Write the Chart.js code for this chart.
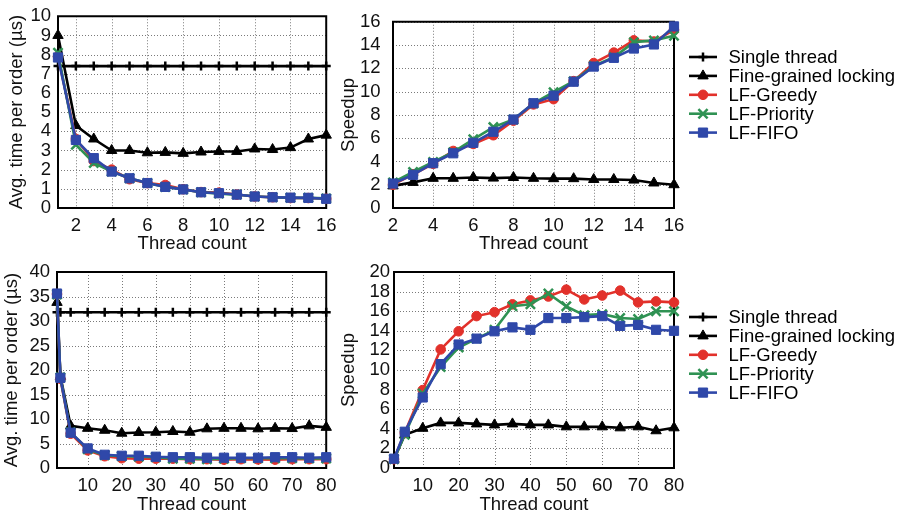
<!DOCTYPE html>
<html>
<head>
<meta charset="utf-8">
<script src="https://cdn.jsdelivr.net/npm/chart.js@4.4.1/dist/chart.umd.min.js"></script>
<style>
  html, body { margin: 0; padding: 0; background: #fff; }
  #wrap { position: relative; width: 904px; height: 516px; overflow: hidden; }
  canvas { position: absolute; }
</style>
</head>
<body>
<div id="wrap">
  <canvas id="tl" width="345" height="255" style="left:0;top:0"></canvas>
  <canvas id="tr" width="564" height="255" style="left:340px;top:0"></canvas>
  <canvas id="bl" width="345" height="261" style="left:0;top:255px"></canvas>
  <canvas id="br" width="564" height="261" style="left:340px;top:255px"></canvas>
</div>
<script>
// ---- data ----
const seriesNames = ['Single thread', 'Fine-grained locking', 'LF-Greedy', 'LF-Priority', 'LF-FIFO'];

// top row: up to 16 threads
const threadsSmall = [1, 2, 3, 4, 5, 6, 7, 8, 9, 10, 11, 12, 13, 14, 15, 16];
const timeSmallSingle = [7.4, 7.4, 7.4, 7.4, 7.4, 7.4, 7.4, 7.4, 7.4, 7.4, 7.4, 7.4, 7.4, 7.4, 7.4, 7.4];
const timeSmallFine = [9.0, 4.3, 3.6, 3.0, 3.0, 2.88, 2.9, 2.85, 2.92, 2.95, 2.95, 3.08, 3.05, 3.15, 3.6, 3.8];
const timeSmallGreedy = [7.9, 3.6, 2.45, 2.0, 1.5, 1.3, 1.2, 0.98, 0.83, 0.8, 0.7, 0.6, 0.56, 0.52, 0.52, 0.48];
const timeSmallPriority = [8.1, 3.3, 2.35, 1.9, 1.55, 1.3, 1.1, 0.97, 0.82, 0.75, 0.7, 0.6, 0.56, 0.53, 0.53, 0.5];
const timeSmallFifo = [7.85, 3.55, 2.6, 1.9, 1.55, 1.3, 1.1, 0.97, 0.82, 0.77, 0.7, 0.6, 0.56, 0.54, 0.53, 0.48];

const threadsSmallSpeed = [2, 3, 4, 5, 6, 7, 8, 9, 10, 11, 12, 13, 14, 15, 16];
const speedSmallFine = [1.9, 2.2, 2.55, 2.55, 2.62, 2.57, 2.62, 2.55, 2.52, 2.52, 2.45, 2.45, 2.4, 2.15, 2.0];
const speedSmallGreedy = [2.0, 2.9, 3.8, 4.9, 5.5, 6.25, 7.5, 8.9, 9.35, 10.9, 12.45, 13.35, 14.4, 14.3, 15.3];
const speedSmallPriority = [2.2, 3.1, 3.95, 4.8, 5.9, 6.95, 7.6, 9.0, 9.95, 10.9, 12.2, 12.95, 14.25, 14.4, 14.8];
const speedSmallFifo = [2.1, 2.85, 3.85, 4.7, 5.6, 6.55, 7.6, 9.0, 9.65, 10.85, 12.15, 12.9, 13.7, 14.05, 15.6];

// bottom row: up to 80 threads
const threadsLarge = [1, 2, 5, 10, 15, 20, 25, 30, 35, 40, 45, 50, 55, 60, 65, 70, 75, 80];
const timeLargeSingle = [31.8, 31.8, 31.8, 31.8, 31.8, 31.8, 31.8, 31.8, 31.8, 31.8, 31.8, 31.8, 31.8, 31.8, 31.8, 31.8, 31.8, 31.8];
const timeLargeFine = [33.8, 18.7, 8.6, 8.1, 7.7, 7.1, 7.25, 7.3, 7.45, 7.3, 8.0, 8.1, 8.1, 8.0, 8.1, 8.05, 8.6, 8.3];
const timeLargeGreedy = [35.5, 18.2, 7.0, 3.6, 2.4, 2.0, 1.9, 1.9, 1.9, 1.8, 1.8, 1.7, 1.8, 1.75, 1.7, 1.8, 1.8, 1.8];
const timeLargePriority = [35.4, 18.5, 7.3, 3.8, 2.6, 2.4, 2.3, 2.2, 1.9, 1.9, 1.8, 1.9, 2.0, 2.0, 2.0, 2.0, 1.95, 1.95];
const timeLargeFifo = [35.6, 18.4, 7.2, 4.0, 2.7, 2.5, 2.5, 2.3, 2.2, 2.2, 2.1, 2.1, 2.1, 2.1, 2.2, 2.2, 2.1, 2.2];

const threadsLargeSpeed = [2, 5, 10, 15, 20, 25, 30, 35, 40, 45, 50, 55, 60, 65, 70, 75, 80];
const speedLargeFine = [0.9, 3.4, 4.05, 4.6, 4.6, 4.5, 4.4, 4.5, 4.4, 4.4, 4.2, 4.2, 4.2, 4.1, 4.2, 3.8, 4.1];
const speedLargeGreedy = [0.9, 3.6, 7.95, 12.1, 13.95, 15.5, 15.9, 16.7, 17.1, 17.5, 18.2, 17.2, 17.6, 18.1, 16.9, 17.0, 16.9];
const speedLargePriority = [0.9, 3.4, 7.6, 10.3, 12.3, 13.2, 14.1, 16.5, 16.7, 17.8, 16.5, 15.6, 15.7, 15.3, 15.2, 16.0, 16.0];
const speedLargeFifo = [0.95, 3.7, 7.2, 10.6, 12.6, 13.2, 13.95, 14.35, 14.1, 15.3, 15.3, 15.4, 15.5, 14.5, 14.6, 14.1, 14.0];

// tick labels
const ticksSmallX = [2, 4, 6, 8, 10, 12, 14, 16];
const ticksLargeX = [10, 20, 30, 40, 50, 60, 70, 80];
const ticksTimeSmall = [0, 1, 2, 3, 4, 5, 6, 7, 8, 9, 10];
const ticksSpeedSmall = [0, 2, 4, 6, 8, 10, 12, 14, 16];
const ticksTimeLarge = [0, 5, 10, 15, 20, 25, 30, 35, 40];
const ticksSpeedLarge = [0, 2, 4, 6, 8, 10, 12, 14, 16, 18, 20];

// ---- styles ----
const FONT = "'Liberation Sans', Arial, Helvetica, sans-serif";
const styles = [
  { color: '#000000', point: 'cross',    r: 4.5, bw: 2.5 },
  { color: '#000000', point: 'triangle', r: 6,   bw: 1 },
  { color: '#e2312b', point: 'circle',   r: 4.8, bw: 1 },
  { color: '#2f9253', point: 'crossRot', r: 6.5, bw: 2.5 },
  { color: '#2f48a9', point: 'rect',     r: 6.5, bw: 1 }
];

function makeSet(i, xs, ys) {
  const s = styles[i];
  return {
    label: seriesNames[i],
    data: xs.map((x, k) => ({ x: x, y: ys[k] })),
    borderColor: s.color,
    backgroundColor: s.color,
    borderWidth: 2.6,
    pointStyle: s.point,
    pointRadius: s.r,
    pointBorderWidth: s.bw,
    pointBackgroundColor: s.color,
    pointBorderColor: s.color,
    tension: 0,
    clip: false,
    order: 4 - i
  };
}

// dotted grid + full frame, like gnuplot
const framePlugin = {
  id: 'frame',
  beforeDatasetsDraw(chart) {
    const { ctx, chartArea: a, scales } = chart;
    ctx.save();
    ctx.strokeStyle = '#7a7a7a';
    ctx.lineWidth = 1;
    ctx.setLineDash([1, 2]);
    scales.x.ticks.forEach(t => {
      const px = Math.round(scales.x.getPixelForValue(t.value)) + 0.5;
      ctx.beginPath(); ctx.moveTo(px, a.top); ctx.lineTo(px, a.bottom); ctx.stroke();
    });
    scales.y.ticks.forEach(t => {
      const py = Math.round(scales.y.getPixelForValue(t.value)) + 0.5;
      ctx.beginPath(); ctx.moveTo(a.left, py); ctx.lineTo(a.right, py); ctx.stroke();
    });
    ctx.setLineDash([]);
    ctx.strokeStyle = '#000';
    ctx.lineWidth = 2;
    ctx.strokeRect(a.left, a.top, a.right - a.left, a.bottom - a.top);
    ctx.restore();
  }
};

// legend with line + marker samples
const sideLegend = {
  id: 'sideLegend',
  afterDraw(chart, args, opts) {
    if (!opts || !opts.show) return;
    const ctx = chart.ctx;
    ctx.save();
    seriesNames.forEach((name, i) => {
      const s = styles[i];
      const y = opts.y + i * opts.gap;
      ctx.strokeStyle = s.color;
      ctx.fillStyle = s.color;
      ctx.lineWidth = 2.6;
      ctx.beginPath(); ctx.moveTo(opts.x, y); ctx.lineTo(opts.x + 28, y); ctx.stroke();
      ctx.lineWidth = s.bw;
      Chart.helpers.drawPoint(ctx, { pointStyle: s.point, radius: s.r, rotation: 0, borderWidth: s.bw }, opts.x + 14, y);
      ctx.fillStyle = '#000';
      ctx.font = '18.5px ' + FONT;
      ctx.textBaseline = 'middle';
      ctx.textAlign = 'left';
      ctx.fillText(name, opts.x + 39.5, y + 1);
    });
    ctx.restore();
  }
};

function makeChart(id, cfg) {
  const font = { family: FONT, size: 18.5, lineHeight: 1 };
  new Chart(document.getElementById(id), {
    type: 'line',
    data: { datasets: cfg.sets },
    plugins: [framePlugin, sideLegend],
    options: {
      responsive: false,
      animation: false,
      events: [],
      devicePixelRatio: 1,
      layout: { padding: { top: cfg.padTop, right: cfg.padRight, left: 0, bottom: 0 } },
      plugins: {
        legend: { display: false },
        tooltip: { enabled: false },
        sideLegend: cfg.legend || { show: false }
      },
      scales: {
        x: {
          type: 'linear',
          min: cfg.xMin, max: cfg.xMax,
          afterBuildTicks: s => { s.ticks = cfg.xTicks.map(v => ({ value: v })); },
          afterFit: s => { s.height = cfg.xH; },
          grid: { display: false, drawTicks: false },
          border: { display: false },
          ticks: { font: font, color: '#111', padding: 8.5, maxRotation: 0, autoSkip: false },
          title: { display: true, text: 'Thread count', font: font, color: '#111', padding: { top: 0, bottom: 2 } }
        },
        y: {
          type: 'linear',
          min: cfg.yMin, max: cfg.yMax,
          afterBuildTicks: s => { s.ticks = cfg.yTicks.map(v => ({ value: v })); },
          afterFit: s => { s.width = cfg.yW; },
          grid: { display: false, drawTicks: false },
          border: { display: false },
          ticks: { font: font, color: '#111', padding: cfg.yPad, autoSkip: false },
          title: { display: true, text: cfg.yTitle, font: font, color: '#111', padding: { top: cfg.yTitlePad, bottom: 0 } }
        }
      }
    }
  });
}

makeChart('tl', {
  sets: [
    makeSet(0, threadsSmall, timeSmallSingle),
    makeSet(1, threadsSmall, timeSmallFine),
    makeSet(2, threadsSmall, timeSmallGreedy),
    makeSet(3, threadsSmall, timeSmallPriority),
    makeSet(4, threadsSmall, timeSmallFifo)
  ],
  xMin: 1, xMax: 16, xTicks: ticksSmallX,
  yMin: 0, yMax: 10, yTicks: ticksTimeSmall,
  yTitle: 'Avg. time per order (\u00b5s)',
  yW: 58, yPad: 7, yTitlePad: 7.5, xH: 47, padTop: 12, padRight: 7
});

makeChart('tr', {
  sets: [
    makeSet(1, threadsSmallSpeed, speedSmallFine),
    makeSet(2, threadsSmallSpeed, speedSmallGreedy),
    makeSet(3, threadsSmallSpeed, speedSmallPriority),
    makeSet(4, threadsSmallSpeed, speedSmallFifo)
  ],
  xMin: 2, xMax: 16, xTicks: ticksSmallX,
  yMin: 0, yMax: 16, yTicks: ticksSpeedSmall,
  yTitle: 'Speedup',
  yW: 53, yPad: 12.5, yTitlePad: 0, xH: 47, padTop: 12, padRight: 230,
  legend: { show: true, x: 349, y: 57, gap: 18.9 }
});

makeChart('bl', {
  sets: [
    makeSet(0, threadsLarge, timeLargeSingle),
    makeSet(1, threadsLarge, timeLargeFine),
    makeSet(2, threadsLarge, timeLargeGreedy),
    makeSet(3, threadsLarge, timeLargePriority),
    makeSet(4, threadsLarge, timeLargeFifo)
  ],
  xMin: 1, xMax: 80, xTicks: ticksLargeX,
  yMin: 0, yMax: 40, yTicks: ticksTimeLarge,
  yTitle: 'Avg. time per order (\u00b5s)',
  yW: 57, yPad: 7, yTitlePad: 3, xH: 48, padTop: 17, padRight: 7
});

makeChart('br', {
  sets: [
    makeSet(1, threadsLargeSpeed, speedLargeFine),
    makeSet(2, threadsLargeSpeed, speedLargeGreedy),
    makeSet(3, threadsLargeSpeed, speedLargePriority),
    makeSet(4, threadsLargeSpeed, speedLargeFifo)
  ],
  xMin: 2, xMax: 80, xTicks: ticksLargeX,
  yMin: 0, yMax: 20, yTicks: ticksSpeedLarge,
  yTitle: 'Speedup',
  yW: 54, yPad: 4, yTitlePad: 0, xH: 48, padTop: 17, padRight: 230,
  legend: { show: true, x: 349, y: 62, gap: 18.9 }
});
</script>
</body>
</html>
